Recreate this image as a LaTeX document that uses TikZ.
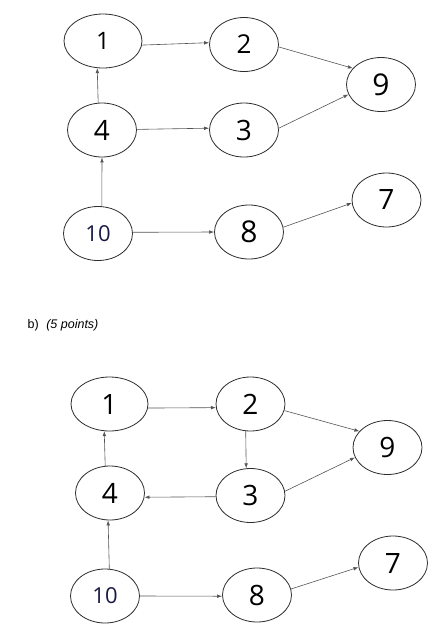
\documentclass[tikz,border=0pt]{standalone}
\usepackage{fontspec}
\setmainfont{Open Sans}
\newfontfamily\labelfont{Liberation Sans}
\usetikzlibrary{shapes.geometric,arrows.meta}
\definecolor{edgegray}{RGB}{85,85,85}
\definecolor{rim}{RGB}{45,45,45}
\definecolor{navy}{RGB}{25,25,70}
\begin{document}
\begin{tikzpicture}[x=1pt,y=-1pt,
  vtx/.style={ellipse, draw=rim, line width=0.8pt, minimum width=69pt, minimum height=54pt, inner sep=0pt, font=\fontsize{28}{30}\selectfont},
  widevtx/.style={vtx, minimum width=78pt},
  smalltxt/.style={font=\fontsize{22}{24}\selectfont, text=navy},
  edge/.style={draw=edgegray, line width=0.6pt, -{Latex[length=5pt,width=3.6pt]}}]
\useasboundingbox (0,0) rectangle (433,633);

% ---------- top graph ----------
\node[widevtx, font=\fontsize{24}{26}\selectfont] (t1) at (103,41) {1};
\node[vtx, font=\fontsize{26}{28}\selectfont] (t2) at (244,44.5) {2};
\node[vtx, font=\fontsize{30}{32}\selectfont] (t9) at (381,84.5) {9};
\node[vtx] (t4) at (102,130) {4};
\node[vtx] (t3) at (244,130) {3};
\node[vtx] (t7) at (386.5,200) {7};
\node[vtx, smalltxt] (t10) at (98,233.5) {10};
\node[vtx, font=\fontsize{30}{32}\selectfont] (t8) at (249,232) {8};

\draw[edge] (t1.-6) -- (t2.177.5);
\draw[edge] (t2.-4) -- (t9.150.6);
\draw[edge] (t3.3) -- (t9.197);
\draw[edge] (t4.98) -- (t1.258);
\draw[edge] (t4.1.6) -- (t3.177);
\draw[edge] (t10.82) -- (t4.270);
\draw[edge] (t10.2.5) -- (t8.180);
\draw[edge] (t8.8) -- (t7.185);

% ---------- caption ----------
\node[anchor=base west, inner sep=0pt, font=\labelfont\fontsize{12.5}{14}\selectfont] (cap) at (27.5,328.5) {b)\hspace{7.5pt}\textit{(5 points)}};

% ---------- bottom graph ----------
\node[vtx, minimum width=77pt] (b1) at (109.5,404) {1};
\node[vtx] (b2) at (250.5,404) {2};
\node[vtx] (b9) at (387.5,447.5) {9};
\node[vtx] (b4) at (110,493) {4};
\node[vtx] (b3) at (250.5,495.5) {3};
\node[vtx] (b7) at (393,563) {7};
\node[vtx, smalltxt] (b10) at (105,596) {10};
\node[vtx] (b8) at (257,595) {8};

\draw[edge] (b1.-6) -- (b2.186.6);
\draw[edge] (b2.-11) -- (b9.150);
\draw[edge] (b2.260.5) -- (b3.99);
\draw[edge] (b3.182.5) -- (b4.-7);
\draw[edge] (b3.7) -- (b9.197);
\draw[edge] (b4.100.5) -- (b1.259);
\draw[edge] (b10.81.6) -- (b4.266);
\draw[edge] (b10.0) -- (b8.182);
\draw[edge] (b8.10) -- (b7.187);
\end{tikzpicture}
\end{document}
